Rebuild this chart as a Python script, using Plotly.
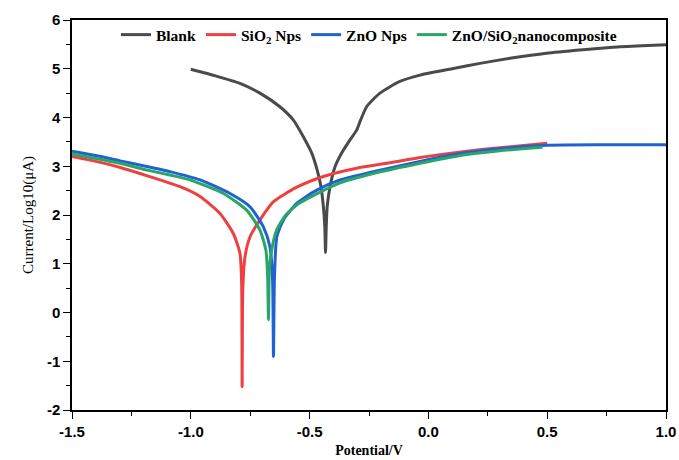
import plotly.graph_objects as go

# ---- data ----
blank_x = [-1.0, -0.9, -0.793, -0.709, -0.625, -0.569, -0.527, -0.491, -0.468, -0.452, -0.442,
           -0.436, -0.433, -0.43, -0.426, -0.414, -0.393, -0.365, -0.33, -0.302, -0.285, -0.26,
           -0.204, -0.12, -0.035, 0.1, 0.217, 0.35, 0.497, 0.65, 0.777, 0.9, 1.0]
blank_y = [4.99, 4.86, 4.70, 4.50, 4.22, 3.95, 3.61, 3.27, 2.92, 2.58, 2.17,
           1.76, 1.23, 1.75, 2.17, 2.58, 2.99, 3.27, 3.54, 3.74, 3.95, 4.22,
           4.50, 4.74, 4.87, 5.0, 5.11, 5.22, 5.32, 5.39, 5.44, 5.47, 5.49]

sio2_x = [-1.5, -1.4, -1.3, -1.2, -1.045, -0.961, -0.877, -0.821, -0.793, -0.786,
          -0.784, -0.781, -0.772, -0.751, -0.709, -0.653, -0.554, -0.442, -0.302, -0.162,
          -0.035, 0.146, 0.3, 0.5]
sio2_y = [3.2, 3.1, 2.98, 2.83, 2.58, 2.38, 2.03, 1.62, 1.21, 0.6,
          -1.52, 0.5, 1.14, 1.55, 1.90, 2.27, 2.57, 2.79, 2.96, 3.07,
          3.18, 3.30, 3.38, 3.47]

zno_x = [-1.5, -1.4, -1.298, -1.2, -1.088, -0.961, -0.835, -0.751, -0.695, -0.667,
         -0.656, -0.652, -0.648, -0.638, -0.61, -0.554, -0.47, -0.372, -0.232, -0.035,
         0.146, 0.3, 0.5, 0.75, 1.0]
zno_y = [3.31, 3.22, 3.11, 3.01, 2.89, 2.72, 2.44, 2.17, 1.76, 1.35,
         0.7, -0.9, 0.7, 1.55, 1.90, 2.24, 2.51, 2.72, 2.89, 3.10,
         3.27, 3.36, 3.43, 3.44, 3.44]

comp_x = [-1.5, -1.4, -1.298, -1.2, -1.088, -1.003, -0.863, -0.765, -0.709, -0.684,
          -0.677, -0.673, -0.669, -0.655, -0.638, -0.6, -0.55, -0.46, -0.372, -0.232,
          -0.035, 0.146, 0.3, 0.48]
comp_y = [3.25, 3.16, 3.06, 2.94, 2.82, 2.72, 2.44, 2.10, 1.69, 1.28,
          0.8, -0.15, 0.9, 1.4, 1.7, 2.0, 2.22, 2.46, 2.66, 2.85,
          3.06, 3.23, 3.32, 3.39]

x_ticks = [-1.5, -1.0, -0.5, 0.0, 0.5, 1.0]
x_ticktext = ["-1.5", "-1.0", "-0.5", "0.0", "0.5", "1.0"]
y_ticks = [-2, -1, 0, 1, 2, 3, 4, 5, 6]
y_ticktext = ["-2", "-1", "0", "1", "2", "3", "4", "5", "6"]

series = [
    ("Blank", blank_x, blank_y, "#4a4a4a"),
    ("SiO<sub>2</sub> Nps", sio2_x, sio2_y, "#ef4040"),
    ("ZnO Nps", zno_x, zno_y, "#1f62d0"),
    ("ZnO/SiO<sub>2</sub>nanocomposite", comp_x, comp_y, "#2aa56a"),
]

fig = go.Figure()
for name, xs, ys, col in series:
    fig.add_trace(go.Scatter(x=xs, y=ys, mode="lines", name=name,
                             line=dict(color=col, width=3, shape="spline", smoothing=0.6)))

axis_common = dict(
    showline=True, linecolor="black", linewidth=1.5, mirror=True,
    ticks="outside", ticklen=7, tickwidth=1.3, tickcolor="black",
    showgrid=False, zeroline=False, automargin=False,
    tickfont=dict(family="Liberation Sans", size=15, color="black", weight="bold"),
)

fig.update_xaxes(range=[-1.5, 1.0], tickvals=x_ticks, ticktext=x_ticktext,
                 minor=dict(dtick=0.25, tick0=-1.5, ticks="outside", ticklen=4, tickcolor="black"),
                 title=dict(text="Potential/V", standoff=6,
                            font=dict(family="Liberation Serif", size=14, color="black", weight="bold")),
                 **axis_common)
fig.update_yaxes(range=[-2, 6], tickvals=y_ticks, ticktext=y_ticktext,
                 minor=dict(dtick=0.5, tick0=-2, ticks="outside", ticklen=4, tickcolor="black"),
                 title=dict(text="Current/Log10(μA)", standoff=10,
                            font=dict(family="Liberation Serif", size=15, color="black")),
                 **axis_common)

fig.update_layout(
    width=679, height=460,
    margin=dict(l=72, r=13, t=20, b=50),
    paper_bgcolor="white", plot_bgcolor="white",
    legend=dict(orientation="h", x=0.074, y=1.005, xanchor="left", yanchor="top",
                bgcolor="rgba(0,0,0,0)", itemwidth=30, tracegroupgap=0,
                font=dict(family="Liberation Serif", size=15.5, color="black", weight="bold")),
)

fig.write_html("out.html", config={"displayModeBar": False},
               post_script="document.body.style.margin='0';document.body.style.overflow='hidden';")
